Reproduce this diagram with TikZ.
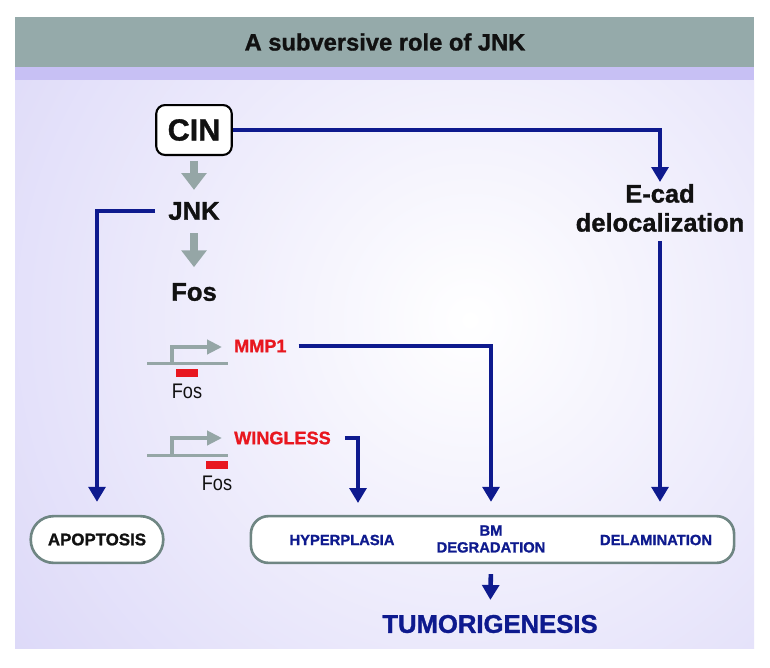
\documentclass[tikz,border=0pt]{standalone}
\usepackage{fontspec}
\setmainfont{Liberation Sans}[BoldFeatures={FakeBold=1.2}]
\newfontfamily\narrow{Liberation Sans}[FakeStretch=0.86]
\usetikzlibrary{positioning, arrows.meta, calc}
\definecolor{header}{HTML}{95AAAA}
\definecolor{band}{HTML}{C7C0F4}
\definecolor{lilac}{HTML}{D1CCF6}
\definecolor{navy}{HTML}{0E1A8E}
\definecolor{ash}{HTML}{95A6A6}
\definecolor{signal}{HTML}{E8171F}
\definecolor{rim}{HTML}{6F8683}
\definecolor{ink}{HTML}{111111}
\newcommand{\fsz}[2]{\fontsize{#1}{#2}\selectfont}

\begin{document}
\begin{tikzpicture}[x=0.02cm, y=-0.02cm,
    flow/.style={navy, line width=2.6pt, -{Triangle[width=9.5pt, length=8.5pt]}},
    block/.style={ash, line width=4.5pt, -{Triangle[width=14pt, length=9.6pt]}},
    hit/.style={text=navy, font=\bfseries\fsz{8.4pt}{9.6pt}, align=center}]
    \useasboundingbox (0,0) rectangle (770,667);
    % Hintergrund
    \fill[white] (0,0) rectangle (770,667);
    \fill[header] (15,17) rectangle (754,67);
    \fill[lilac] (15,67) rectangle (754,648);
    \begin{scope}
      \clip (15,80) rectangle (754,648);
      \shade[inner color=white, outer color=lilac] (470,320) circle (760);
    \end{scope}
    \fill[band] (15,67) rectangle (754,80);
    \node[text=ink, font=\bfseries\fsz{13.5pt}{16pt}] (title) at (385,42) {A subversive role of JNK};
    % Signalweg links
    \node[draw=black, line width=1.2pt, fill=white, rounded corners=5pt,
      minimum width=43pt, minimum height=28.4pt, text=ink,
      font=\bfseries\fsz{17.4pt}{20pt}] (cin) at (194,130) {CIN};
    \node[text=ink, font=\bfseries\fsz{14.6pt}{17pt}] (jnk) at (194,211) {JNK};
    \node[text=ink, font=\bfseries\fsz{14.6pt}{17pt}] (fos) at (194,292) {Fos};
    \draw[block, shorten <=2.8pt, shorten >=3.4pt] (cin) -- (jnk);
    \draw[block, shorten <=4pt, shorten >=5.5pt] (jnk) -- (fos);
    % Zielgene mit Fos-Bindestelle
    \draw[ash, line width=1.7pt] (147,363) -- (228,363);
    \draw[ash, line width=2.3pt, -{Triangle[width=8pt, length=8.5pt]}] (172,363) |- (222,347);
    \fill[signal] (176,369) rectangle (198,377);
    \node[text=ink, font=\narrow\fsz{12pt}{13pt}] (fosa) at (187,391) {Fos};
    \node[text=signal, font=\bfseries\fsz{10.3pt}{12pt}, anchor=west] (mmp) at (228,346) {MMP1};
    \draw[ash, line width=1.7pt] (147,455) -- (228,455);
    \draw[ash, line width=2.3pt, -{Triangle[width=8pt, length=8.5pt]}] (172,455) |- (222,438);
    \fill[signal] (206,461) rectangle (228,469);
    \node[text=ink, font=\narrow\fsz{12pt}{13pt}] (fosb) at (217,483) {Fos};
    \node[text=signal, font=\bfseries\fsz{10.3pt}{12pt}, anchor=west] (wg) at (228,438) {WINGLESS};
    % E-cad
    \node[text=ink, font=\bfseries\fsz{14.5pt}{16.5pt}, align=center, anchor=north, inner sep=1pt]
      (ecad) at (660,182) {E-cad\\delocalization};
    % Ergebnisse
    \node[draw=rim, line width=1.5pt, fill=white, rounded corners=13pt,
      minimum width=75.4pt, minimum height=26.6pt, text=ink,
      font=\bfseries\fsz{9.6pt}{11pt}] (apop) at (97,539.5) {APOPTOSIS};
    \node[draw=rim, line width=1.5pt, fill=white, rounded corners=10pt,
      minimum width=275pt, minimum height=26.6pt] (outcome) at (492.5,539.5) {};
    \node[hit] (hyper) at (342,540) {HYPERPLASIA};
    \node[hit] (bm) at (491,539) {BM\\DEGRADATION};
    \node[hit] (delam) at (656,540) {DELAMINATION};
    \node[text=navy, font=\bfseries\fsz{14.6pt}{17pt}] (tumor) at (490,624) {TUMORIGENESIS};
    \coordinate (hypin) at (358,516);
    % Pfeile
    \draw[flow] (cin.east) -| (ecad.north);
    \draw[flow, shorten <=4pt, shorten >=7.4pt] (jnk.west) -| (apop.north);
    \draw[flow, shorten <=3.4pt, shorten >=7.4pt] (mmp.east) -| (bm |- outcome.north);
    \draw[flow, shorten <=4.5pt, shorten >=7.4pt] (wg.east) -| (hypin);
    \draw[flow, shorten <=4pt, shorten >=7.4pt] (ecad.south) -- (ecad.south |- outcome.north);
    \draw[flow, shorten <=5.7pt, shorten >=5pt] (bm |- outcome.south) -- (tumor);
\end{tikzpicture}
\end{document}
